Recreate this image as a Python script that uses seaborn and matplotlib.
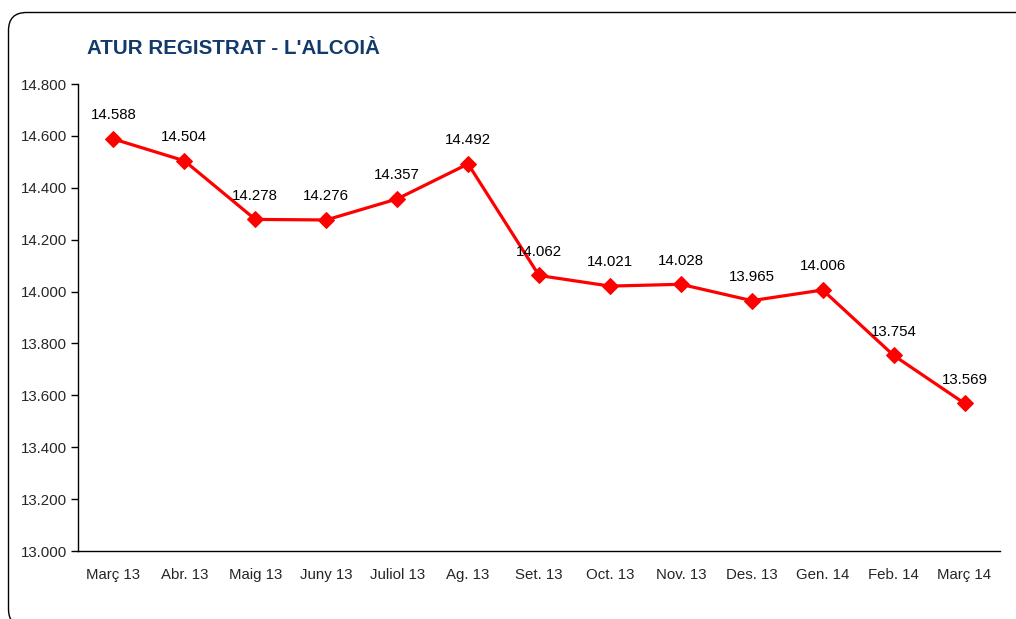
import numpy as np
import matplotlib
matplotlib.use("Agg")
import matplotlib.pyplot as plt
import seaborn as sns
from matplotlib.patches import FancyBboxPatch
from matplotlib.transforms import IdentityTransform

# Data
months = ["Març 13", "Abr. 13", "Maig 13", "Juny 13", "Juliol 13", "Ag. 13", "Set. 13",
          "Oct. 13", "Nov. 13", "Des. 13", "Gen. 14", "Feb. 14", "Març 14"]
atur = [14588, 14504, 14278, 14276, 14357, 14492, 14062,
        14021, 14028, 13965, 14006, 13754, 13569]
y_ticks = [13000, 13200, 13400, 13600, 13800, 14000, 14200, 14400, 14600, 14800]

sns.set_style("white")
plt.rcParams['font.family'] = ['Liberation Sans', 'DejaVu Sans']

def fmt(v):
    return f"{v:,.0f}".replace(",", ".")

W, H = 1016, 619
fig = plt.figure(figsize=(W / 100, H / 100), dpi=100)

# rounded frame around the chart (partly cut off at right/bottom)
frame = FancyBboxPatch((8.5, -8), 1100, H - 12.5 + 8,
                       boxstyle="round,pad=0,rounding_size=18",
                       transform=IdentityTransform(), facecolor="none",
                       edgecolor="black", linewidth=1.0)
fig.add_artist(frame)

ax = fig.add_axes([78 / W, 1 - 551 / H, (1000 - 78) / W, (551 - 84) / H])
x = np.arange(len(months))
sns.lineplot(x=x, y=atur, ax=ax, color="#FF0000", linewidth=2.3,
             marker="D", markersize=8.5, markeredgecolor="#FF0000")

for xi, v in zip(x, atur):
    ax.annotate(fmt(v), (xi, v), xytext=(0, 12), textcoords="offset points",
                ha="center", va="bottom", fontsize=10.8, color="black")

ax.set_xlim(-0.5, len(months) - 0.5)
ax.set_ylim(13000, 14800)
ax.set_yticks(y_ticks)
ax.set_yticklabels([fmt(v) for v in y_ticks], fontsize=10.8)

# category labels centered, tick marks at boundaries
ax.set_xticks(x)
ax.set_xticklabels(months, fontsize=10.8)
ax.set_xticks(np.arange(len(months) + 1) - 0.5, minor=True)
ax.tick_params(axis="x", which="major", length=0, pad=12)
ax.tick_params(axis="x", which="minor", length=5, width=1, direction="out", color="black")
ax.tick_params(axis="y", length=5, width=1, direction="out", color="black", left=True, pad=3)

for side in ["top", "right"]:
    ax.spines[side].set_visible(False)
for side in ["left", "bottom"]:
    ax.spines[side].set_color("black")
    ax.spines[side].set_linewidth(1.0)

fig.text(87 / W, 1 - 49 / H, "ATUR REGISTRAT - L'ALCOIÀ", fontsize=14.8,
         fontweight="bold", color="#123A6B", ha="left", va="center")

fig.savefig("out.png", dpi=100, facecolor="white")
